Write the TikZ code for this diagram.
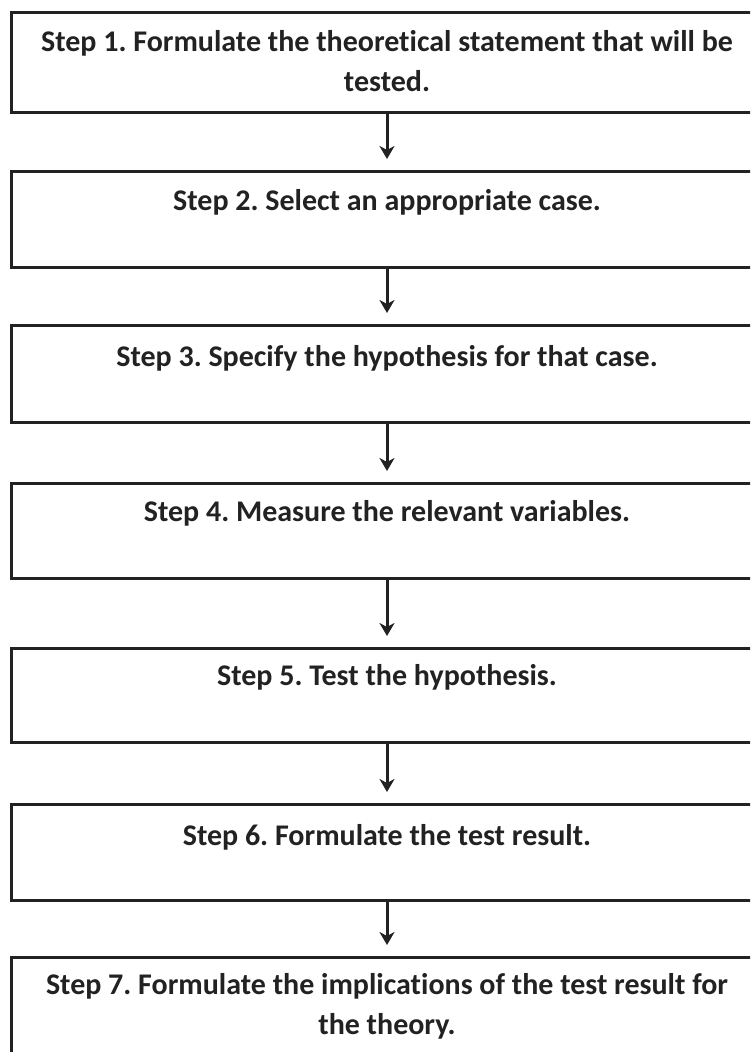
\documentclass[tikz,border=0pt]{standalone}
\usepackage{fontspec}
\setmainfont{Carlito}[Ligatures=NoCommon]
\usetikzlibrary{arrows.meta}
\definecolor{ink}{HTML}{222222}
\begin{document}
\frenchspacing
\begin{tikzpicture}[x=1pt,y=-1pt,
  stepbox/.style={draw=ink, line width=3pt, minimum width=751pt, inner sep=0pt,
                  outer sep=0pt, anchor=north west, fill=white},
  steptext/.style={text=ink, font=\bfseries\fontsize{30}{40}\selectfont,
                   align=center, inner sep=0pt, anchor=base},
  conn/.style={draw=ink, line width=3pt, shorten >=12pt,
               -{Stealth[length=13pt,width=15pt,inset=4pt]}}]
  \clip (0,0) rectangle (750,1052);
  \fill[white] (0,0) rectangle (750,1052);

  % the seven step boxes
  \node[stepbox, minimum height=100pt] (b1) at (11.5,12)  {};
  \node[stepbox, minimum height=96pt]  (b2) at (11.5,171) {};
  \node[stepbox, minimum height=97pt]  (b3) at (11.5,325) {};
  \node[stepbox, minimum height=95pt]  (b4) at (11.5,483) {};
  \node[stepbox, minimum height=94pt]  (b5) at (11.5,648) {};
  \node[stepbox, minimum height=96pt]  (b6) at (11.5,804) {};
  \node[stepbox, minimum height=130pt] (b7) at (11.5,957) {};

  % step texts (base = baseline of the last line)
  \node[steptext] (t1) at (387,91)  {Step 1. Formulate the theoretical statement that will be\\tested.};
  \node[steptext] (t2) at (387,210) {Step 2. Select an appropriate case.};
  \node[steptext] (t3) at (387,366) {Step 3. Specify the hypothesis for that case.};
  \node[steptext] (t4) at (387,521) {Step 4. Measure the relevant variables.};
  \node[steptext] (t5) at (387,685) {Step 5. Test the hypothesis.};
  \node[steptext] (t6) at (387,845) {Step 6. Formulate the test result.};
  \node[steptext] (t7) at (387,1034) {Step 7. Formulate the implications of the test result for\\the theory.};

  % connectors
  \draw[conn] (b1.south) -- (b2.north);
  \draw[conn] (b2.south) -- (b3.north);
  \draw[conn] (b3.south) -- (b4.north);
  \draw[conn] (b4.south) -- (b5.north);
  \draw[conn] (b5.south) -- (b6.north);
  \draw[conn] (b6.south) -- (b7.north);
\end{tikzpicture}
\end{document}
